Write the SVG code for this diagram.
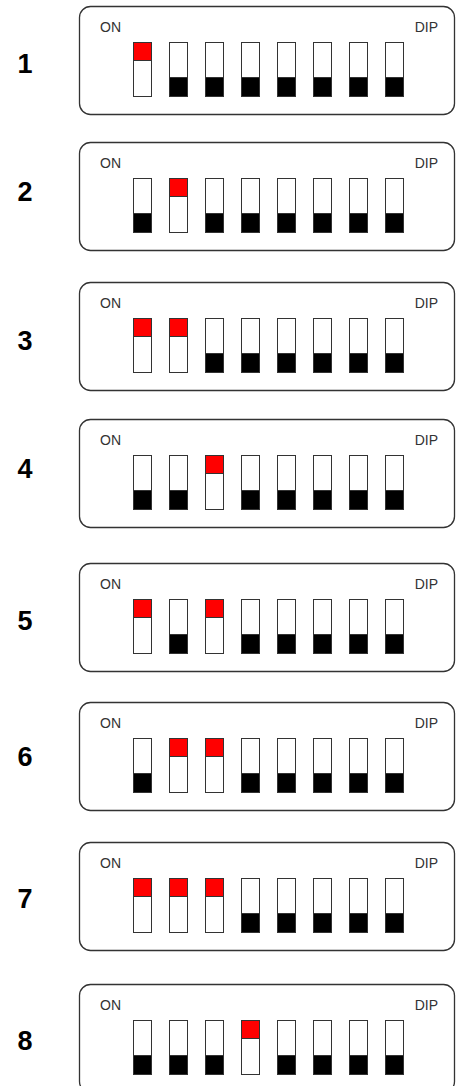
<svg xmlns="http://www.w3.org/2000/svg" xmlns:xlink="http://www.w3.org/1999/xlink" width="456" height="1086" viewBox="0 0 456 1086">
<style>
.box{fill:#fff;stroke:#333;stroke-width:1.3}
.num{font-family:"Liberation Sans",Arial,sans-serif;font-size:27px;font-weight:bold;fill:#000;text-anchor:middle}
.lbl{font-family:"Liberation Sans",Arial,sans-serif;font-size:14px;fill:#333}
.sw{fill:#fff;stroke:#333;stroke-width:1}
</style>
<defs>
<g id="off"><rect class="sw" x="0" y="0" width="18" height="54"/><rect x="0" y="35" width="18" height="19" fill="#000" stroke="#333"/></g>
<g id="on"><rect class="sw" x="0" y="0" width="18" height="54"/><rect x="0" y="0" width="18" height="18" fill="#f00" stroke="#333"/></g>
<g id="dipbase"><rect class="box" x="79.5" y="0" width="375" height="108" rx="11"/><text class="lbl" x="100" y="25">ON</text><text class="lbl" x="438" y="25" text-anchor="end">DIP</text></g>
</defs>
<g id="dip1" transform="translate(0,6.5)"><use xlink:href="#dipbase"/>
<use xlink:href="#on" x="133.5" y="36"/><use xlink:href="#off" x="169.5" y="36"/><use xlink:href="#off" x="205.5" y="36"/><use xlink:href="#off" x="241.5" y="36"/><use xlink:href="#off" x="277.5" y="36"/><use xlink:href="#off" x="313.5" y="36"/><use xlink:href="#off" x="349.5" y="36"/><use xlink:href="#off" x="385.5" y="36"/></g>
<g id="dip2" transform="translate(0,142.5)"><use xlink:href="#dipbase"/>
<use xlink:href="#off" x="133.5" y="36"/><use xlink:href="#on" x="169.5" y="36"/><use xlink:href="#off" x="205.5" y="36"/><use xlink:href="#off" x="241.5" y="36"/><use xlink:href="#off" x="277.5" y="36"/><use xlink:href="#off" x="313.5" y="36"/><use xlink:href="#off" x="349.5" y="36"/><use xlink:href="#off" x="385.5" y="36"/></g>
<g id="dip3" transform="translate(0,282.5)"><use xlink:href="#dipbase"/>
<use xlink:href="#on" x="133.5" y="36"/><use xlink:href="#on" x="169.5" y="36"/><use xlink:href="#off" x="205.5" y="36"/><use xlink:href="#off" x="241.5" y="36"/><use xlink:href="#off" x="277.5" y="36"/><use xlink:href="#off" x="313.5" y="36"/><use xlink:href="#off" x="349.5" y="36"/><use xlink:href="#off" x="385.5" y="36"/></g>
<g id="dip4" transform="translate(0,419.5)"><use xlink:href="#dipbase"/>
<use xlink:href="#off" x="133.5" y="36"/><use xlink:href="#off" x="169.5" y="36"/><use xlink:href="#on" x="205.5" y="36"/><use xlink:href="#off" x="241.5" y="36"/><use xlink:href="#off" x="277.5" y="36"/><use xlink:href="#off" x="313.5" y="36"/><use xlink:href="#off" x="349.5" y="36"/><use xlink:href="#off" x="385.5" y="36"/></g>
<g id="dip5" transform="translate(0,563.5)"><use xlink:href="#dipbase"/>
<use xlink:href="#on" x="133.5" y="36"/><use xlink:href="#off" x="169.5" y="36"/><use xlink:href="#on" x="205.5" y="36"/><use xlink:href="#off" x="241.5" y="36"/><use xlink:href="#off" x="277.5" y="36"/><use xlink:href="#off" x="313.5" y="36"/><use xlink:href="#off" x="349.5" y="36"/><use xlink:href="#off" x="385.5" y="36"/></g>
<g id="dip6" transform="translate(0,702.5)"><use xlink:href="#dipbase"/>
<use xlink:href="#off" x="133.5" y="36"/><use xlink:href="#on" x="169.5" y="36"/><use xlink:href="#on" x="205.5" y="36"/><use xlink:href="#off" x="241.5" y="36"/><use xlink:href="#off" x="277.5" y="36"/><use xlink:href="#off" x="313.5" y="36"/><use xlink:href="#off" x="349.5" y="36"/><use xlink:href="#off" x="385.5" y="36"/></g>
<g id="dip7" transform="translate(0,842.5)"><use xlink:href="#dipbase"/>
<use xlink:href="#on" x="133.5" y="36"/><use xlink:href="#on" x="169.5" y="36"/><use xlink:href="#on" x="205.5" y="36"/><use xlink:href="#off" x="241.5" y="36"/><use xlink:href="#off" x="277.5" y="36"/><use xlink:href="#off" x="313.5" y="36"/><use xlink:href="#off" x="349.5" y="36"/><use xlink:href="#off" x="385.5" y="36"/></g>
<g id="dip8" transform="translate(0,984.5)"><use xlink:href="#dipbase"/>
<use xlink:href="#off" x="133.5" y="36"/><use xlink:href="#off" x="169.5" y="36"/><use xlink:href="#off" x="205.5" y="36"/><use xlink:href="#on" x="241.5" y="36"/><use xlink:href="#off" x="277.5" y="36"/><use xlink:href="#off" x="313.5" y="36"/><use xlink:href="#off" x="349.5" y="36"/><use xlink:href="#off" x="385.5" y="36"/></g>
<g id="labels">
<text class="num" x="25" y="73">1</text>
<text class="num" x="25" y="201">2</text>
<text class="num" x="25" y="350">3</text>
<text class="num" x="25" y="478">4</text>
<text class="num" x="25" y="630">5</text>
<text class="num" x="25" y="766">6</text>
<text class="num" x="25" y="908">7</text>
<text class="num" x="25" y="1050">8</text>
</g>
</svg>
